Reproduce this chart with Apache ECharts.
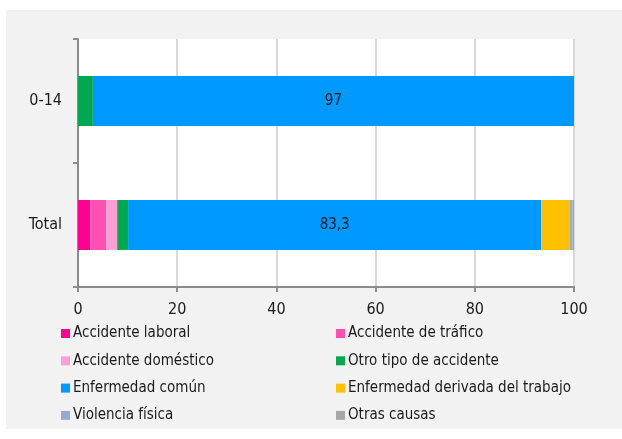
<!DOCTYPE html>
<html><head><meta charset="utf-8">
<script src="https://cdn.jsdelivr.net/npm/echarts@6/dist/echarts.min.js"></script>
<style>html,body{margin:0;padding:0;background:#fff}#c{width:622px;height:439px}</style>
</head><body><div id="c"></div>
<script>
const categories = ['0-14', 'Total'];
const seriesNames = ['Accidente laboral','Accidente de tráfico','Accidente doméstico','Otro tipo de accidente','Enfermedad común','Enfermedad derivada del trabajo','Violencia física','Otras causas'];
const accidenteLaboral = [0, 2.5];
const accidenteTrafico = [0, 3.2];
const accidenteDomestico = [0, 2.2];
const otroTipo = [3.0, 2.2];
const enfermedadComun = [97, 83.3];
const enfermedadTrabajo = [0, 5.8];
const violenciaFisica = [0, 0.5];
const otrasCausas = [0, 0.3];
const xTicks = [0, 20, 40, 60, 80, 100];

const values = [accidenteLaboral, accidenteTrafico, accidenteDomestico, otroTipo, enfermedadComun, enfermedadTrabajo, violenciaFisica, otrasCausas];
const colors = ['#ff0090','#ff4fb0','#ff9fd4','#00a850','#0099ff','#ffc000','#95abd6','#a6a6a6'];
const FONT = '"Liberation Sans Narrow", "DejaVu Sans Condensed", sans-serif';

const chart = echarts.init(document.getElementById('c'), null, {renderer:'canvas'});
const series = seriesNames.map((n, i) => ({
  name: n, type: 'bar', stack: 'a', barWidth: 50,
  itemStyle: {color: colors[i]},
  data: values[i],
  label: i === 4 ? {show: true, position: 'inside', color: '#1a1a1a', fontFamily: FONT, fontSize: 15,
    formatter: p => String(p.value).replace('.', ',')} : {show: false}
}));
const legendCommon = {orient: 'vertical', itemWidth: 9, itemHeight: 9, itemGap: 12.3, icon: 'rect',
  textStyle: {fontFamily: FONT, fontSize: 15, color: '#1a1a1a', padding: [0,0,0,-2]}, selectedMode: false, padding: 0};
chart.setOption({
  animation: false,
  backgroundColor: '#fff',
  graphic: [{type: 'rect', z: -10, shape: {x: 6, y: 10, width: 616, height: 419}, style: {fill: '#f2f2f2'}}],
  grid: {left: 78, right: 48, top: 39, bottom: 152, show: true, backgroundColor: '#fff', borderWidth: 0},
  legend: [
    Object.assign({left: 61, top: 326, data: seriesNames.filter((_, i) => i % 2 === 0)}, legendCommon),
    Object.assign({left: 336, top: 326, data: seriesNames.filter((_, i) => i % 2 === 1)}, legendCommon)
  ],
  xAxis: {type: 'value', min: 0, max: 100, interval: 20,
    axisLine: {show: true, lineStyle: {color: '#8c8c8c', width: 2}},
    axisTick: {show: true, length: 5, lineStyle: {color: '#8c8c8c', width: 2}},
    axisLabel: {fontFamily: FONT, fontSize: 16, color: '#1a1a1a', margin: 15,
      formatter: v => xTicks.includes(v) ? String(v) : ''},
    splitLine: {show: true, lineStyle: {color: '#d9d9d9', width: 2}}
  },
  yAxis: {type: 'category', inverse: true, data: categories,
    axisLine: {show: true, lineStyle: {color: '#8c8c8c', width: 2}},
    axisTick: {show: true, length: 5, lineStyle: {color: '#8c8c8c', width: 2}},
    axisLabel: {fontFamily: FONT, fontSize: 16, color: '#1a1a1a', margin: 16},
    splitLine: {show: false}
  },
  series: series
});
</script></body></html>
